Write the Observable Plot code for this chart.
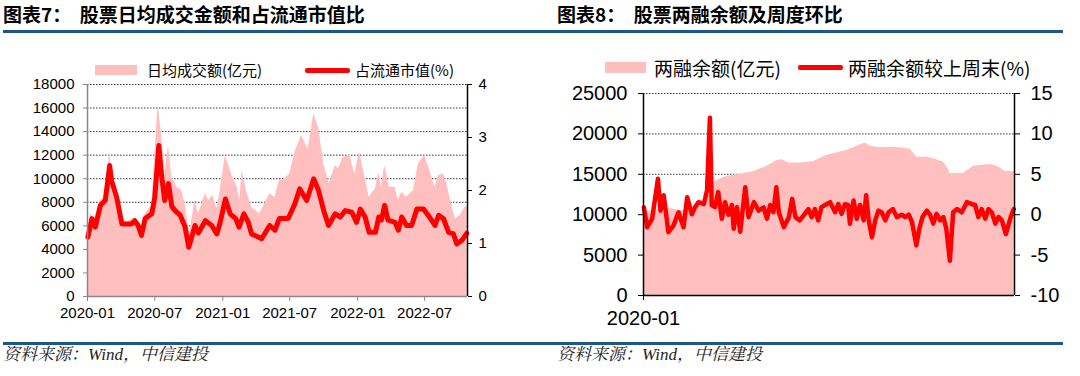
<!DOCTYPE html>
<html><head><meta charset="utf-8">
<script src="https://cdn.jsdelivr.net/npm/d3@7"></script>
<script src="https://cdn.jsdelivr.net/npm/@observablehq/plot@0.6"></script>
<style>
body{margin:0;width:1080px;height:376px;position:relative;background:#fff;overflow:hidden;font-family:"Liberation Sans",Arial,sans-serif;}
.title{position:absolute;top:4px;font:bold 19px/1 "Noto Sans CJK SC",sans-serif;color:#000;white-space:pre;}
.rule{position:absolute;left:3px;width:1060px;height:3px;background:#1d5689;}
.src{position:absolute;top:346px;font:italic 17px/1 "Liberation Serif","Noto Serif CJK SC",serif;color:#222;white-space:pre;}
.chart{position:absolute;top:60px;}
.leg{position:absolute;font-family:"Noto Sans CJK SC",sans-serif;color:#000;white-space:nowrap;line-height:1;}
.sw{position:absolute;background:#ffbfbf;}
.ln{position:absolute;background:#ff0000;height:5px;border-radius:2px;}
</style></head>
<body>
<div class="title" style="left:3px">图表7：  股票日均成交金额和占流通市值比</div>
<div class="title" style="left:557px">图表8：  股票两融余额及周度环比</div>
<div class="rule" style="top:30px"></div>
<div class="rule" style="top:342px"></div>
<div class="src" style="left:3px">资料来源：Wind，中信建投</div>
<div class="src" style="left:557px">资料来源：Wind，中信建投</div>
<div id="c1" class="chart" style="left:0px"></div>
<div id="c2" class="chart" style="left:540px"></div>
<div class="sw" style="left:95px;top:65px;width:42px;height:10px"></div>
<div class="leg" style="left:147px;top:62px;font-size:15px">日均成交额(亿元)</div>
<div class="ln" style="left:305px;top:68px;width:45px"></div>
<div class="leg" style="left:355px;top:62px;font-size:15px">占流通市值(%)</div>
<div class="sw" style="left:605px;top:62px;width:41px;height:11px"></div>
<div class="leg" style="left:654px;top:58px;font-size:19px">两融余额(亿元)</div>
<div class="ln" style="left:798px;top:65px;width:45px"></div>
<div class="leg" style="left:848px;top:58px;font-size:19px">两融余额较上周末(%)</div>
<script>
// ---------- Chart 7 data ----------
const volDates = ["2020-01-02","2020-01-09","2020-01-17","2020-02-05","2020-02-18","2020-03-01","2020-03-11","2020-03-24","2020-04-03","2020-04-16","2020-05-08","2020-05-26","2020-06-05","2020-06-23","2020-07-10","2020-07-19","2020-07-28","2020-08-07","2020-08-16","2020-08-30","2020-09-12","2020-09-21","2020-10-03","2020-10-18","2020-10-27","2020-11-15","2020-11-24","2020-12-05","2020-12-16","2020-12-25","2021-01-08","2021-01-26","2021-02-09","2021-02-16","2021-02-22","2021-03-06","2021-03-20","2021-04-11","2021-04-20","2021-05-08","2021-05-22","2021-06-03","2021-06-18","2021-07-01","2021-07-15","2021-08-02","2021-08-20","2021-09-04","2021-09-17","2021-10-01","2021-10-16","2021-11-01","2021-11-10","2021-11-23","2021-12-11","2021-12-24","2022-01-06","2022-01-17","2022-02-01","2022-02-18","2022-02-27","2022-03-06","2022-03-15","2022-03-28","2022-04-12","2022-04-21","2022-04-30","2022-05-13","2022-06-01","2022-06-14","2022-07-01","2022-07-15","2022-07-29","2022-08-08","2022-08-21","2022-08-30","2022-09-08","2022-09-22","2022-10-05","2022-10-18","2022-10-24"];
const volValues = [4900,7160,6200,8150,8430,12250,9560,8430,6590,6310,6700,5880,7000,7720,16350,13800,10300,12800,10100,9270,9000,7870,5320,8150,7000,8720,8150,8580,7440,9000,11970,10270,9270,8150,10700,9000,7580,7000,7580,8720,8430,9850,10000,10400,12250,13670,12500,15500,14400,11260,9570,11120,10840,11820,11970,10400,12250,10700,8430,9140,10560,9280,11120,9280,9280,8150,8860,8430,9000,11260,11970,10700,9280,10270,10400,9570,8300,6590,6870,7580,7600];
const ratioDates = ["2020-01-02","2020-01-13","2020-01-22","2020-02-05","2020-02-18","2020-03-01","2020-03-06","2020-03-20","2020-04-03","2020-04-16","2020-04-29","2020-05-08","2020-05-17","2020-05-26","2020-06-05","2020-06-23","2020-07-01","2020-07-12","2020-07-19","2020-07-28","2020-08-07","2020-08-16","2020-08-25","2020-09-08","2020-09-21","2020-10-01","2020-10-18","2020-10-27","2020-11-15","2020-12-02","2020-12-16","2020-12-25","2021-01-08","2021-01-21","2021-02-05","2021-02-14","2021-02-27","2021-03-11","2021-03-20","2021-04-16","2021-05-08","2021-05-22","2021-06-03","2021-06-27","2021-07-15","2021-07-28","2021-08-16","2021-09-04","2021-09-17","2021-10-01","2021-10-14","2021-11-01","2021-11-15","2021-11-28","2021-12-16","2021-12-29","2022-01-08","2022-01-21","2022-02-01","2022-02-18","2022-02-27","2022-03-06","2022-03-15","2022-03-24","2022-04-12","2022-04-21","2022-04-30","2022-05-13","2022-05-27","2022-06-10","2022-06-28","2022-07-11","2022-07-29","2022-08-08","2022-08-21","2022-09-04","2022-09-17","2022-09-26","2022-10-10","2022-10-23"];
const ratioValues = [1.12,1.47,1.31,1.72,1.81,2.47,2.19,1.87,1.37,1.37,1.37,1.43,1.34,1.15,1.47,1.56,1.87,2.85,2.3,1.81,2.13,1.7,1.62,1.53,1.31,0.93,1.34,1.2,1.43,1.34,1.18,1.4,1.84,1.56,1.47,1.31,1.56,1.4,1.18,1.09,1.34,1.25,1.47,1.47,1.75,2.03,1.81,2.22,2.0,1.62,1.34,1.56,1.5,1.62,1.59,1.4,1.65,1.5,1.21,1.21,1.5,1.44,1.72,1.44,1.4,1.25,1.5,1.34,1.34,1.65,1.65,1.53,1.34,1.53,1.47,1.21,1.18,0.99,1.06,1.19];
const c7LeftTicks = [0,2000,4000,6000,8000,10000,12000,14000,16000,18000];
const c7RightTicks = [0,1,2,3,4];
const c7XTicks = ["2020-01-01","2020-07-01","2021-01-01","2021-07-01","2022-01-01","2022-07-01"];

// ---------- Chart 8 data ----------
const marginDates = ["2020-01-02","2020-02-10","2020-03-05","2020-04-10","2020-05-15","2020-06-20","2020-07-08","2020-07-17","2020-08-19","2020-09-25","2020-11-02","2020-12-08","2021-01-05","2021-01-19","2021-02-07","2021-03-09","2021-04-15","2021-05-22","2021-06-10","2021-07-17","2021-08-14","2021-09-07","2021-09-20","2021-10-18","2021-11-15","2021-12-12","2022-01-09","2022-01-28","2022-02-25","2022-03-18","2022-04-11","2022-04-25","2022-04-29","2022-06-05","2022-07-03","2022-08-19","2022-09-07","2022-09-30","2022-10-24"];
const marginValues = [10300,10600,10900,10500,10700,11200,13500,14150,14750,15000,15360,16000,16700,16800,16400,16400,16550,17330,17530,17950,18460,18870,18460,18300,18350,18300,18100,17100,17100,16900,16500,15650,15100,15100,16000,16200,16000,15360,15360];
const chgDates = ["2020-01-02","2020-01-11","2020-01-25","2020-02-10","2020-02-17","2020-02-26","2020-03-10","2020-03-24","2020-04-07","2020-04-21","2020-05-01","2020-05-14","2020-05-23","2020-06-02","2020-06-16","2020-06-25","2020-07-03","2020-07-08","2020-07-17","2020-07-26","2020-08-05","2020-08-14","2020-08-23","2020-09-02","2020-09-07","2020-09-16","2020-09-25","2020-10-09","2020-10-18","2020-11-02","2020-11-15","2020-11-29","2020-12-08","2020-12-17","2020-12-26","2021-01-03","2021-01-10","2021-01-24","2021-02-07","2021-02-16","2021-02-25","2021-03-09","2021-03-23","2021-04-02","2021-04-11","2021-04-20","2021-04-29","2021-05-08","2021-05-22","2021-06-01","2021-06-15","2021-06-24","2021-07-03","2021-07-12","2021-07-21","2021-07-26","2021-08-05","2021-08-14","2021-08-23","2021-09-02","2021-09-09","2021-09-16","2021-09-25","2021-10-04","2021-10-13","2021-10-22","2021-11-01","2021-11-10","2021-11-22","2021-12-03","2021-12-17","2021-12-26","2022-01-05","2022-01-14","2022-01-26","2022-02-03","2022-02-12","2022-02-24","2022-03-05","2022-03-14","2022-03-23","2022-04-02","2022-04-11","2022-04-19","2022-04-29","2022-05-08","2022-05-19","2022-06-01","2022-06-15","2022-06-29","2022-07-08","2022-07-17","2022-07-26","2022-08-05","2022-08-14","2022-08-23","2022-09-02","2022-09-11","2022-09-20","2022-10-01","2022-10-13","2022-10-23"];
const chgValues = [0.93,-1.55,-0.5,4.44,0.5,2.4,-2.17,-1.35,0.3,-1.55,2.17,0.05,0.93,1.55,1.3,3.0,12.0,1.18,0.93,2.8,-0.5,1.55,0,1.2,-1.75,0.93,-2.1,3.4,-0.3,1.55,0.5,0.9,-0.5,1.2,0.3,3.4,0.3,-1.55,-0.3,1.96,-0.3,-0.7,0.1,0.7,-0.3,0.7,-0.7,0.93,1.3,1.55,0.3,1.3,0.1,1.3,1.2,-1.13,1.76,-0.5,1.2,-0.7,2.4,-0.7,-2.8,-0.7,0.5,0.3,-0.7,0.3,0.7,-0.3,0,-0.3,0,-0.9,-3.8,-1.8,-0.3,0.5,0,-1.1,0.1,-0.7,-0.3,-1.7,-5.7,0.3,0.7,0.3,1.55,1.3,1.2,-0.3,0.7,-0.5,0.7,0.3,-1.1,-0.3,-0.7,-2.4,-0.5,0.7];
const c8LeftTicks = [0,5000,10000,15000,20000,25000];
const c8RightTicks = [-10,-5,0,5,10,15];
const c8XTicks = ["2020-01-01"];

const xDomain = [new Date("2020-01-01"), new Date("2022-10-25")];
const toRows = (ds, vs) => ds.map((d, i) => ({date: new Date(d), value: vs[i]}));
const vol = toRows(volDates, volValues);
const ratio = toRows(ratioDates, ratioValues);
const margin = toRows(marginDates, marginValues);
const chg = toRows(chgDates, chgValues);

// ratio (0..4) drawn on the 0..18000 scale
const k7 = 18000 / 4;
const c1 = Plot.plot({
  width: 540, height: 270, marginLeft: 87, marginRight: 73, marginTop: 24, marginBottom: 34,
  style: {fontSize: "15px", fontFamily: "Liberation Sans, Arial, sans-serif", color: "#000", background: "transparent"},
  x: {type: "utc", domain: xDomain},
  y: {domain: [0, 18000]},
  marks: [
    Plot.ruleY(c7LeftTicks.filter(v => v > 0), {stroke: "#333", strokeDasharray: "1.5,1.5", strokeWidth: 1}),
    Plot.areaY(vol, {x: "date", y: "value", fill: "#ffbfbf"}),
    Plot.lineY(ratio, {x: "date", y: d => d.value * k7, stroke: "#ff0000", strokeWidth: 5, strokeLinejoin: "round", strokeLinecap: "round"}),
    Plot.ruleX([xDomain[0]], {stroke: "#888", strokeWidth: 1.5}),
    Plot.ruleX([xDomain[1]], {stroke: "#000", strokeWidth: 1.5}),
    Plot.ruleY([0], {stroke: "#888", strokeWidth: 1.5}),
    Plot.axisY({anchor: "left", ticks: c7LeftTicks, tickSize: 4, tickPadding: 9, stroke: "#888", label: null, tickFormat: d => String(d)}),
    Plot.axisY({anchor: "right", ticks: c7RightTicks.map(v => v * k7), tickSize: 4, tickPadding: 7, label: null, tickFormat: d => String(d / k7)}),
    Plot.axisX({ticks: c7XTicks.map(d => new Date(d)), tickFormat: d3.utcFormat("%Y-%m"), tickSize: 5, tickPadding: 6, label: null, stroke: "#888"})
  ]
});
document.getElementById("c1").append(c1);

// change (-10..15) drawn on the 0..25000 scale
const k8 = v => (v + 10) * 1000;
const c2 = Plot.plot({
  width: 540, height: 270, marginLeft: 103, marginRight: 66, marginTop: 33, marginBottom: 35,
  style: {fontSize: "20px", fontFamily: "Liberation Sans, Arial, sans-serif", color: "#000", background: "transparent"},
  x: {type: "utc", domain: xDomain},
  y: {domain: [0, 25000]},
  marks: [
    Plot.ruleY(c8LeftTicks.filter(v => v > 0), {stroke: "#333", strokeDasharray: "1.5,1.5", strokeWidth: 1}),
    Plot.areaY(margin, {x: "date", y: "value", fill: "#ffbfbf"}),
    Plot.lineY(chg, {x: "date", y: d => k8(d.value), stroke: "#ff0000", strokeWidth: 4.5, strokeLinejoin: "round", strokeLinecap: "round"}),
    Plot.ruleX([xDomain[0]], {stroke: "#000", strokeWidth: 1.5}),
    Plot.ruleX([xDomain[1]], {stroke: "#000", strokeWidth: 1.5}),
    Plot.ruleY([0], {stroke: "#000", strokeWidth: 1.5}),
    Plot.axisY({anchor: "left", ticks: c8LeftTicks, tickSize: 5, tickPadding: 11, label: null, tickFormat: d => String(d)}),
    Plot.axisY({anchor: "right", ticks: c8RightTicks.map(k8), tickSize: 5, tickPadding: 11, label: null, tickFormat: d => String(Math.round(d / 1000 - 10))}),
    Plot.axisX({ticks: c8XTicks.map(d => new Date(d)), tickFormat: d3.utcFormat("%Y-%m"), tickSize: 5, tickPadding: 10, label: null})
  ]
});
document.getElementById("c2").append(c2);
</script>
</body></html>
